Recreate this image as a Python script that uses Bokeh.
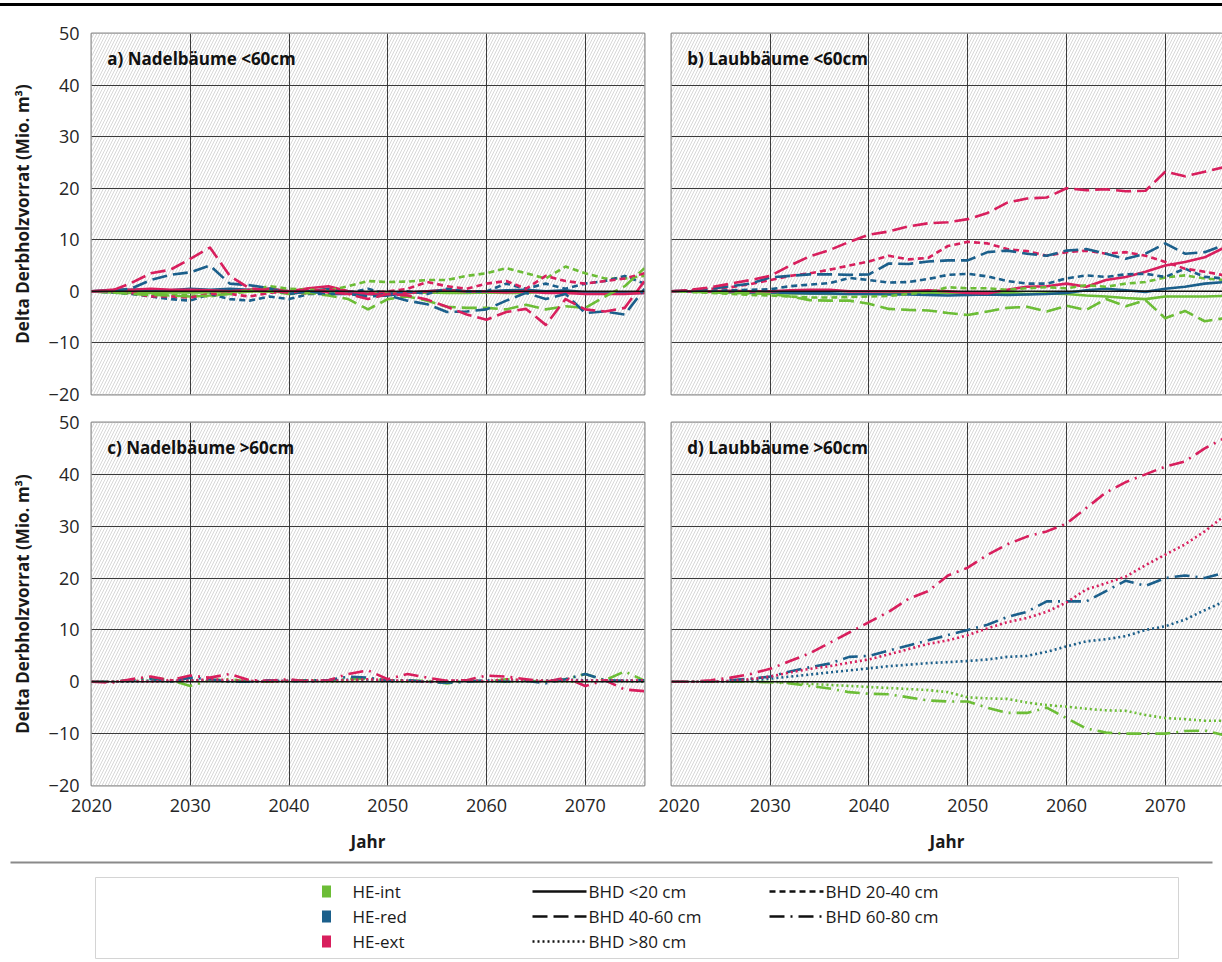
from bokeh.plotting import figure
from bokeh.models import Range1d, FixedTicker, BoxAnnotation, Span, Label, Div
from bokeh.layouts import column, row
from bokeh.embed import file_html
from bokeh.resources import INLINE
from bokeh.core.properties import value

# ---------------- data ----------------
YEARS = list(range(2020, 2077, 2))
SCENARIOS = ["HE-int", "HE-red", "HE-ext"]
CLASSES = ["BHD <20 cm", "BHD 20-40 cm", "BHD 40-60 cm", "BHD 60-80 cm", "BHD >80 cm"]
PANEL_TITLES = ["a) Nadelbäume <60cm", "b) Laubbäume <60cm", "c) Nadelbäume >60cm", "d) Laubbäume >60cm"]
Y_TICKS = [-20, -10, 0, 10, 20, 30, 40, 50]
X_TICKS = [2020, 2030, 2040, 2050, 2060, 2070]

# a) Nadelbäume <60cm
a_int_lt20 = [0, -0.2, -0.3, -0.3, -0.2, -0.2, -0.2, 0, 0, 0, -0.2, -0.3, 0, -0.3, -0.3, -0.4, -0.3, -0.2, -0.3, -0.3, -0.2, -0.3, -0.3, 0, -0.3, -0.2, -0.4, -0.3, -0.2]
a_red_lt20 = [0, 0.2, 0.3, 0.3, 0.2, 0.5, 0.3, 0.5, 0.3, 0.5, 0, 0, 0.5, 0, -0.5, -0.8, -0.3, 0, 0.3, 0, 0, 0.2, 0.3, 0, 0.2, -0.2, -0.3, -0.3, -0.3]
a_ext_lt20 = [0, 0.3, 0.3, 0.5, 0.3, 0.3, 0.2, 0, 0.3, 0.5, 0, 0.6, 1.0, 0, -0.5, -0.5, -0.3, 0, 0.2, 0, 0, -0.2, 0, -0.3, -0.3, -0.5, -0.5, -0.5, -0.3]
a_int_2040 = [0, -0.1, -0.4, -0.6, -0.7, -0.8, -1, -0.3, 0.2, 1, 0.5, 0.3, 0.2, 1, 2, 1.8, 1.9, 2.2, 2.2, 3, 3.5, 4.5, 3.5, 2.5, 4.8, 3.5, 2.5, 2.5, 3]
a_red_2040 = [0, -0.2, -0.5, -1, -1.5, -1.8, -0.5, -1.5, -1.8, -1, -1.5, -0.5, -0.5, -0.3, 0.5, -0.5, 0, -0.5, 0.5, 0, 0, 1.5, 0.5, 1.5, 0.5, 1.5, 2, 3, 1.5]
a_ext_2040 = [0, 0, -0.3, -1, -1, -1.2, -0.5, -0.5, -1, -0.3, 0, -0.5, 0.5, -0.5, -0.3, 0, 0.5, 1.8, 1, 0.5, 1.5, 2, 0.5, 3, 2, 1.5, 2, 2.5, 3.5]
a_int_4060 = [0, -0.2, -0.5, -0.7, -0.8, -1, -0.8, -0.5, 0, 0, -0.5, -0.3, -0.8, -1.5, -3.5, -1.5, -1, -1.8, -3, -3.2, -3.2, -3.5, -2.6, -3.5, -2.9, -3.2, -1, 1, 4.5]
a_red_4060 = [0, 0.1, 0.5, 2.2, 3.2, 3.7, 5, 1.5, 1.2, 0.6, -0.5, 0, -0.5, -0.5, -1, -0.8, -1.8, -2.5, -4, -3.9, -3.5, -1.8, -0.3, -1.5, -0.5, -4.2, -3.9, -4.5, 0.5]
a_ext_4060 = [0, 0.1, 1.6, 3.5, 4.2, 6.3, 8.5, 3, 0.6, 0.2, -0.3, 0.5, -0.2, -0.5, -1.5, -0.5, -0.8, -1.6, -3, -4.5, -5.5, -4, -3.4, -6.5, -1.5, -3.5, -3.9, -3.2, 2]

# b) Laubbäume <60cm
b_int_lt20 = [0, 0, -0.1, -0.2, -0.3, -0.3, -0.4, -0.4, -0.5, -0.5, -0.5, -0.4, -0.2, -0.3, -0.3, -0.4, -0.2, -0.3, -0.5, -0.4, -0.5, -0.8, -1, -1.3, -1.5, -1, -1, -1, -0.9]
b_red_lt20 = [0, 0, 0, -0.1, -0.2, -0.2, -0.3, -0.4, -0.4, -0.5, -0.5, -0.6, -0.6, -0.7, -0.8, -0.7, -0.6, -0.7, -0.6, -0.5, -0.3, 0.2, 0.5, 0.2, -0.1, 0.5, 0.9, 1.5, 1.8]
b_ext_lt20 = [0, 0, 0, 0.1, 0, 0, 0.2, 0.3, 0.3, 0, 0, 0, 0, 0.2, 0, -0.3, -0.4, 0.3, 0.9, 1, 1.5, 0.9, 2.2, 2.8, 3.8, 5, 5.7, 6.6, 8.5]
b_int_2040 = [0, -0.1, -0.3, -0.5, -0.7, -0.8, -1, -1.2, -1.2, -1.1, -1, -0.9, -0.5, -0.2, 0.8, 0.6, 0.6, 0.3, 0.6, 0.8, 0.6, 1.2, 0.9, 1.5, 1.8, 2.7, 3.1, 2.5, 2.2]
b_red_2040 = [0, 0, 0.1, 0.2, 0.3, 0.4, 1, 1.3, 1.6, 2.6, 2.2, 1.7, 1.8, 2.4, 3.2, 3.4, 2.9, 2, 1.5, 1.5, 2.5, 3.1, 2.8, 3.3, 3.4, 2.8, 4.4, 2.8, 2.5]
b_ext_2040 = [0, 0.2, 0.5, 0.8, 1.4, 2.2, 3, 3.5, 4.2, 5, 5.8, 6.9, 6.2, 6.5, 8.8, 9.6, 9.3, 8.2, 7.8, 6.9, 7.6, 7.9, 7.3, 7.6, 6.9, 5.7, 4.4, 3.8, 3.1]
b_int_4060 = [0, -0.1, -0.2, -0.3, -0.4, -0.5, -1, -1.7, -1.8, -1.8, -2.4, -3.4, -3.6, -3.7, -4.2, -4.6, -3.9, -3.2, -3, -3.9, -2.8, -3.6, -1.5, -2.9, -1.7, -5.2, -3.8, -5.8, -5.2]
b_red_4060 = [0, 0.2, 0.5, 1, 1.5, 2.7, 3, 3.3, 3.3, 3.2, 3.3, 5.4, 5.3, 5.8, 6, 6, 7.6, 7.9, 7.3, 6.9, 7.9, 8.2, 7.3, 6.3, 7.3, 9.3, 7.3, 7.6, 9]
b_ext_4060 = [0, 0.3, 0.8, 1.5, 2.2, 3, 5, 6.8, 8, 9.6, 11, 11.6, 12.6, 13.2, 13.4, 14, 15.2, 17.2, 18, 18.2, 20, 19.6, 19.8, 19.4, 19.5, 23.2, 22.3, 23.2, 24.1]

# c) Nadelbäume >60cm
c_int_6080 = [0, 0, 0.3, 0.8, 0.3, -0.8, 0.3, 0.5, 0, 0, 0.3, 0.3, 0.2, 0.5, 0.6, 0.3, 0.2, 0.2, -0.3, 0.2, 0, 0.5, 0.2, 0, 0.5, 1.5, 0.3, 2, 0.2]
c_red_6080 = [0, 0, 0.3, 0.5, 0, 0.8, 0.5, 0, 0, 0.3, 0, 0.3, 0.3, 1, 0.8, 0.2, 0.3, 0, -0.2, 0, 0.3, 0, 0.2, -0.3, 0.5, 1.5, 0.3, 0.2, 0.3]
c_ext_6080 = [0, -0.2, 0.5, 1, 0.3, 1.2, 0.8, 1.5, 0.3, 0.2, 0.5, 0, 0.3, 1.5, 2.2, 0.5, 1.5, 0.8, 0.2, 0.3, 1.2, 1, 0.5, 0, 0.8, -0.8, 0.3, -1.5, -1.8]
c_int_gt80 = [0, 0, 0.1, 0.2, 0, 0.1, 0.2, 0, 0.1, 0, 0.1, 0.2, 0, 0.1, 0.2, 0.1, 0, 0.1, 0, 0.2, 0.1, 0, 0.1, 0.2, 0, 0.1, 0.2, 0.1, 0]
c_red_gt80 = [0, 0, 0, 0.2, 0.1, 0.3, 0.2, 0.1, 0, 0.1, 0.2, 0.1, 0.2, 0.4, 0.3, 0.1, 0.2, 0, 0.1, 0.2, 0.1, 0.3, 0.1, 0.2, 0.4, 0.3, 0.1, 0.2, 0.1]
c_ext_gt80 = [0, 0, 0.2, 0, 0.3, 0.2, 0.5, 0.3, 0.2, 0, 0.2, 0.3, 0.2, 0.3, 0.5, 0.3, 0.2, 0, 0.2, 0.3, 0.1, 0.5, 0.3, 0.2, 0.3, 0.2, 0.3, 0.2, 0.3]

# d) Laubbäume >60cm
d_int_6080 = [0, 0, 0, 0, 0, -0.1, -0.3, -0.8, -1.3, -2, -2.3, -2.4, -3, -3.6, -3.8, -3.8, -5, -6, -6, -5, -7, -9, -9.8, -10, -10, -10, -9.5, -9.4, -10.3]
d_red_6080 = [0, 0, 0.1, 0.3, 0.6, 1, 2, 2.8, 3.5, 4.8, 5, 6, 7, 8, 9, 10, 11, 12.5, 13.5, 15.5, 15.5, 15.5, 17.5, 19.5, 18.5, 20, 20.5, 20, 21]
d_ext_6080 = [0, 0, 0.3, 0.8, 1.5, 2.5, 4, 5.5, 7.5, 9.5, 11.5, 13.5, 16, 17.5, 20.5, 22, 24.5, 26.5, 28, 29, 30.5, 33.5, 36.5, 38.5, 40, 41.5, 42.5, 45, 47]
d_int_gt80 = [0, 0, 0, 0, 0, 0, -0.2, -0.4, -0.6, -0.8, -1, -1.2, -1.4, -1.6, -2, -3, -3.2, -3.3, -4, -4.5, -4.8, -5.2, -5.5, -5.6, -6.4, -7, -7.2, -7.5, -7.5]
d_red_gt80 = [0, 0, 0, 0.1, 0.3, 0.6, 1, 1.4, 1.8, 2.2, 2.6, 3, 3.3, 3.6, 3.8, 4, 4.3, 4.8, 5, 5.8, 6.8, 7.8, 8.2, 8.8, 10, 10.7, 12, 13.8, 15.5]
d_ext_gt80 = [0, 0, 0, 0.2, 0.5, 1, 1.8, 2.5, 3, 3.7, 4.3, 5.3, 6.3, 7.3, 8, 9, 10.3, 11.5, 12.3, 13.5, 15.3, 17.8, 19, 20.3, 22.5, 24.5, 26.5, 29, 32]

# ---------------- styles ----------------
FONT = "Open Sans"
COLORS = {"HE-int": "#6cbd36", "HE-red": "#1b5f8b", "HE-ext": "#d81f5d"}
DASHES = {"BHD <20 cm": "solid", "BHD 20-40 cm": "6 4", "BHD 40-60 cm": "15 6",
          "BHD 60-80 cm": "15 6 2 6", "BHD >80 cm": "2 3"}

panel_series = [
    {"BHD <20 cm": [a_int_lt20, a_red_lt20, a_ext_lt20],
     "BHD 20-40 cm": [a_int_2040, a_red_2040, a_ext_2040],
     "BHD 40-60 cm": [a_int_4060, a_red_4060, a_ext_4060]},
    {"BHD <20 cm": [b_int_lt20, b_red_lt20, b_ext_lt20],
     "BHD 20-40 cm": [b_int_2040, b_red_2040, b_ext_2040],
     "BHD 40-60 cm": [b_int_4060, b_red_4060, b_ext_4060]},
    {"BHD 60-80 cm": [c_int_6080, c_red_6080, c_ext_6080],
     "BHD >80 cm": [c_int_gt80, c_red_gt80, c_ext_gt80]},
    {"BHD 60-80 cm": [d_int_6080, d_red_6080, d_ext_6080],
     "BHD >80 cm": [d_int_gt80, d_red_gt80, d_ext_gt80]},
]


def make_panel(idx, width, height, mbl, mbr, mbt, mbb, xmax, show_y, show_x):
    p = figure(width=width, height=height, x_range=Range1d(2020, xmax), y_range=Range1d(-20, 50),
               output_backend="svg", toolbar_location=None,
               x_axis_location="below" if show_x else None,
               y_axis_location="left" if show_y else None,
               min_border_left=mbl, min_border_right=mbr, min_border_top=mbt, min_border_bottom=mbb)
    p.background_fill_color = "white"
    p.border_fill_color = "white"
    p.outline_line_color = "#8c8c8c"
    p.outline_line_width = 2
    p.add_layout(BoxAnnotation(left=2020, right=xmax, bottom=-20, top=50, fill_color="white", fill_alpha=1.0,
                               hatch_pattern="/", hatch_color="#cdcdcd", hatch_scale=6, hatch_weight=0.8,
                               line_color=None, level="image"))
    p.xgrid.ticker = FixedTicker(ticks=X_TICKS)
    p.ygrid.ticker = FixedTicker(ticks=Y_TICKS)
    p.grid.grid_line_color = "#3a3a3a"
    p.grid.grid_line_width = 1
    p.add_layout(Span(location=0, dimension="width", line_color="#111111", line_width=1.5))

    if show_y:
        ax = p.yaxis[0]
        ax.ticker = FixedTicker(ticks=Y_TICKS)
        ax.axis_line_color = None
        ax.major_tick_line_color = None
        ax.minor_tick_line_color = None
        ax.major_label_text_font = FONT
        ax.major_label_text_font_size = "18px"
        ax.major_label_text_color = "#262626"
        ax.major_label_standoff = 6
        ax.axis_label = "Delta Derbholzvorrat (Mio. m³)"
        ax.axis_label_text_font = FONT
        ax.axis_label_text_font_size = "17px"
        ax.axis_label_text_font_style = "bold"
        ax.axis_label_text_color = "#1a1a1a"
        ax.axis_label_standoff = 12
    if show_x:
        ax = p.xaxis[0]
        ax.ticker = FixedTicker(ticks=X_TICKS)
        ax.axis_line_color = None
        ax.major_tick_line_color = None
        ax.minor_tick_line_color = None
        ax.major_label_text_font = FONT
        ax.major_label_text_font_size = "18px"
        ax.major_label_text_color = "#262626"
        ax.major_label_standoff = 7
        ax.axis_label = "Jahr"
        ax.axis_label_text_font = FONT
        ax.axis_label_text_font_size = "17px"
        ax.axis_label_text_font_style = "bold"
        ax.axis_label_text_color = "#1a1a1a"
        ax.axis_label_standoff = 15

    for cls, series in panel_series[idx].items():
        for scen, vals in zip(SCENARIOS, series):
            p.line(YEARS, vals, line_color=COLORS[scen], line_width=2.6, line_dash=DASHES[cls],
                   line_cap="butt", line_join="round")

    p.add_layout(Label(x=2021.6, y=45.2, text=PANEL_TITLES[idx], text_font=FONT, text_font_size="17px",
                       text_font_style="bold", text_baseline="middle", text_color="#111111"))
    return p


pa = make_panel(0, 658, 402, 91, 14, 27, 14, 2076, True, False)
pb = make_panel(1, 564, 402, 13, 0, 27, 14, 2075.8, False, False)
pc = make_panel(2, 658, 447, 91, 14, 14, 70, 2076, True, True)
pd = make_panel(3, 564, 447, 13, 0, 14, 70, 2075.8, False, True)

# ---------------- legend ----------------
lg = figure(width=1222, height=106, x_range=Range1d(0, 1222), y_range=Range1d(106, 0),
            output_backend="svg", toolbar_location=None, x_axis_location=None, y_axis_location=None,
            min_border_left=0, min_border_right=0, min_border_top=0, min_border_bottom=0)
lg.grid.visible = False
lg.outline_line_color = None
lg.background_fill_color = "white"
lg.border_fill_color = "white"
lg.segment(x0=[10], y0=[7], x1=[1212], y1=[7], line_color="#8a8a8a", line_width=2)
lg.quad(left=[95], right=[1178], top=[22], bottom=[103], fill_color="white", line_color="#d4d4d4", line_width=1)

row_y = [36, 61, 86]
lg.rect(x=[326] * 3, y=row_y, width=9, height=12, fill_color=[COLORS[s] for s in SCENARIOS], line_color=None)
lg.text(x=[352] * 3, y=row_y, text=SCENARIOS, text_font=value(FONT), text_font_size="17px",
        text_baseline="middle", text_color="#1a1a1a")

leg_pos = {"BHD <20 cm": (532, 586, 0), "BHD 40-60 cm": (532, 586, 1), "BHD >80 cm": (532, 586, 2),
           "BHD 20-40 cm": (769, 823, 0), "BHD 60-80 cm": (769, 823, 1)}
for cls in CLASSES:
    x0, x1, r = leg_pos[cls]
    lg.line([x0, x1], [row_y[r], row_y[r]], line_color="#111111", line_width=2.6, line_dash=DASHES[cls],
            line_cap="butt")
    lg.text(x=[x1 + 2], y=[row_y[r]], text=[cls], text_font=value(FONT), text_font_size="17px",
            text_baseline="middle", text_color="#1a1a1a")

top_line = Div(text="", width=1222, height=3, margin=(3, 0, 0, 0), styles={"background-color": "#000000"})

layout = column(top_line, row(pa, pb, spacing=0), row(pc, pd, spacing=0), lg, spacing=0)

open("out.html", "w").write(file_html(layout, INLINE))
